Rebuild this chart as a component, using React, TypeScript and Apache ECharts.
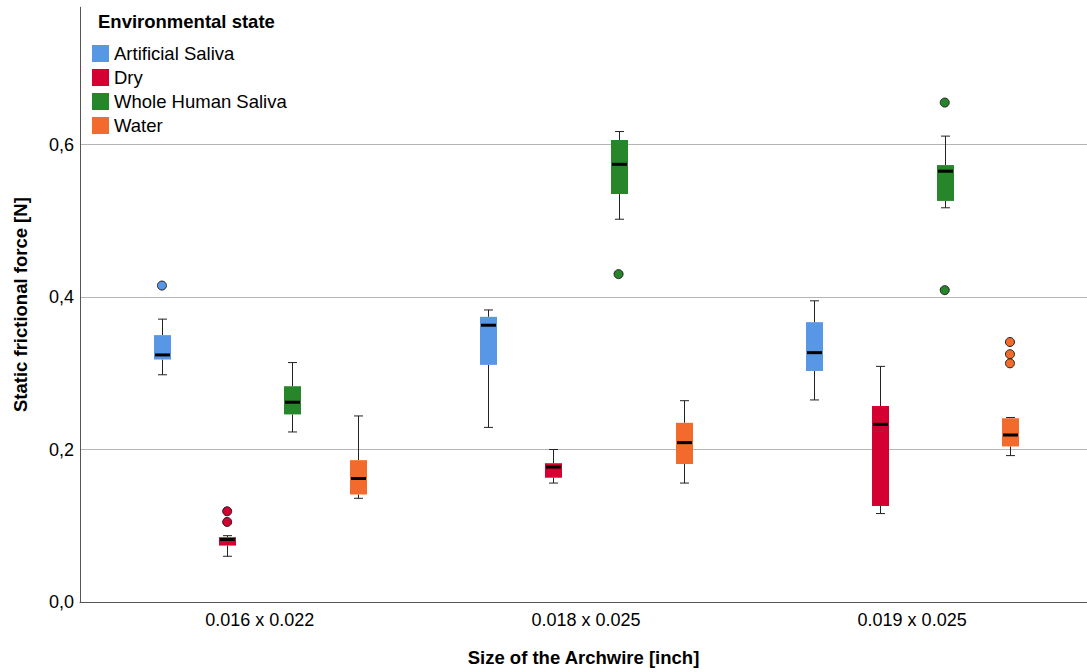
import React, { useEffect, useRef } from "react";
import * as echarts from "echarts";

const categories = ["0.016 x 0.022", "0.018 x 0.025", "0.019 x 0.025"];
const seriesNames = ["Artificial Saliva", "Dry", "Whole Human Saliva", "Water"];
const seriesColors = ["#5797e6", "#d50032", "#27862a", "#f26a2c"];

// [min, Q1, median, Q3, max] per category
const artificialSaliva = [
  [0.298, 0.318, 0.324, 0.35, 0.371],
  [0.229, 0.311, 0.363, 0.374, 0.383],
  [0.265, 0.303, 0.327, 0.367, 0.395],
];
const dry = [
  [0.06, 0.074, 0.082, 0.085, 0.087],
  [0.156, 0.163, 0.177, 0.182, 0.2],
  [0.116, 0.126, 0.233, 0.257, 0.309],
];
const wholeHumanSaliva = [
  [0.223, 0.246, 0.262, 0.283, 0.314],
  [0.502, 0.535, 0.574, 0.606, 0.617],
  [0.517, 0.526, 0.565, 0.573, 0.611],
];
const water = [
  [0.136, 0.141, 0.162, 0.186, 0.244],
  [0.156, 0.181, 0.209, 0.235, 0.264],
  [0.192, 0.204, 0.219, 0.241, 0.242],
];

// outliers: [categoryIndex, value]
const artificialSalivaOutliers = [[0, 0.415]];
const dryOutliers = [[0, 0.105], [0, 0.119]];
const wholeHumanSalivaOutliers = [[1, 0.43], [2, 0.655], [2, 0.409]];
const waterOutliers = [[2, 0.341], [2, 0.325], [2, 0.313]];

const yTicks = [0, 0.2, 0.4, 0.6];
const Y_MAX = 0.78;

const boxData = [artificialSaliva, dry, wholeHumanSaliva, water];
const outlierData = [artificialSalivaOutliers, dryOutliers, wholeHumanSalivaOutliers, waterOutliers];

const FONT = "'Liberation Sans', Arial, Helvetica, sans-serif";

export default function App() {
  const ref = useRef<HTMLDivElement>(null);

  useEffect(() => {
    if (!ref.current) return;
    const chart = echarts.init(ref.current, null, { renderer: "svg" });

    const GRID_TOP = 602 - Y_MAX * 762.5;
    const GRID_H = 602 - GRID_TOP;
    const S_LEFT = 96.7;
    const S_W = 978.5;
    const STEP = S_W / 3 / 5;

    const boxSeries = boxData.map((arr, si) => ({
      type: "custom",
      name: seriesNames[si],
      xAxisIndex: 1,
      yAxisIndex: 1,
      itemStyle: { color: seriesColors[si] },
      encode: { x: 0, y: [1, 2, 3, 4, 5] },
      data: arr.map((d, ci) => [ci, ...d]),
      renderItem: (params: any, api: any) => {
        const cat = api.value(0);
        const cx = api.coord([cat, 0])[0];
        const band = api.size([1, 0])[0];
        const x = Math.round(cx + (si - 1.5) * (band / 5)) + 0.5;
        const y = (v: number) => api.coord([cat, v])[1];
        const yMin = y(api.value(1));
        const yQ1 = y(api.value(2));
        const yMed = y(api.value(3));
        const yQ3 = y(api.value(4));
        const yMax = y(api.value(5));
        const bw = 17;
        const cap = 8;
        const ls = { stroke: "#222", lineWidth: 1 };
        return {
          type: "group",
          children: [
            { type: "line", shape: { x1: x, y1: yMax, x2: x, y2: yQ3 }, style: ls },
            { type: "line", shape: { x1: x, y1: yQ1, x2: x, y2: yMin }, style: ls },
            { type: "line", shape: { x1: x - cap / 2 - 0.5, y1: yMax, x2: x + cap / 2 + 0.5, y2: yMax }, style: ls },
            { type: "line", shape: { x1: x - cap / 2 - 0.5, y1: yMin, x2: x + cap / 2 + 0.5, y2: yMin }, style: ls },
            {
              type: "rect",
              shape: { x: x - bw / 2, y: yQ3, width: bw, height: yQ1 - yQ3 },
              style: { fill: seriesColors[si] },
            },
            {
              type: "line",
              shape: { x1: x - bw / 2 + 1, y1: yMed, x2: x + bw / 2 - 1, y2: yMed },
              style: { stroke: "#000", lineWidth: 3 },
            },
          ],
        };
      },
    }));

    const outlierSeries = outlierData.map((arr, si) => ({
      type: "scatter",
      name: seriesNames[si],
      xAxisIndex: 1,
      yAxisIndex: 1,
      symbol: "circle",
      symbolSize: 9,
      symbolOffset: [(si - 1.5) * STEP, 0],
      itemStyle: { color: seriesColors[si], borderColor: "#222", borderWidth: 1, opacity: 1 },
      data: arr,
      z: 5,
    }));

    chart.setOption({
      animation: false,
      backgroundColor: "#fff",
      textStyle: { fontFamily: FONT },
      title: {
        text: "Environmental state",
        left: 93,
        top: 7,
        textStyle: { fontFamily: FONT, fontSize: 18.5, fontWeight: "bold", color: "#000" },
      },
      legend: {
        orient: "vertical",
        left: 87,
        top: 39,
        icon: "rect",
        itemWidth: 17,
        itemHeight: 17,
        itemGap: 5,
        selectedMode: false,
        data: seriesNames,
        textStyle: { fontFamily: FONT, fontSize: 18.5, color: "#000", lineHeight: 18 },
      },
      grid: [
        { left: 80, width: 1007, top: GRID_TOP, height: GRID_H },
        { left: S_LEFT, width: S_W, top: GRID_TOP, height: GRID_H },
      ],
      xAxis: [
        {
          type: "value",
          gridIndex: 0,
          min: 0,
          max: 1,
          axisLine: { show: true, lineStyle: { color: "#555", width: 1 } },
          axisTick: { show: false },
          axisLabel: { show: false },
          splitLine: { show: false },
          name: "Size of the Archwire [inch]",
          nameLocation: "middle",
          nameGap: 46,
          nameTextStyle: { fontFamily: FONT, fontSize: 18.5, fontWeight: "bold", color: "#000" },
        },
        {
          type: "category",
          gridIndex: 1,
          data: categories,
          axisLine: { show: false },
          axisTick: { show: false },
          axisLabel: { fontFamily: FONT, fontSize: 18, color: "#000", margin: 9 },
          splitLine: { show: false },
        },
      ],
      yAxis: [
        {
          type: "value",
          gridIndex: 0,
          min: yTicks[0],
          max: Y_MAX,
          interval: 0.2,
          axisLine: { show: true, lineStyle: { color: "#555", width: 1 } },
          axisTick: { show: false },
          axisLabel: {
            fontFamily: FONT,
            fontSize: 18,
            color: "#000",
            margin: 6,
            showMaxLabel: false,
            formatter: (v: number) => (yTicks.some((t) => Math.abs(t - v) < 1e-9) ? v.toFixed(1).replace(".", ",") : ""),
          },
          splitLine: { show: true, showMaxLine: false, lineStyle: { color: "#b5b5b5", width: 1 } },
          name: "Static frictional force [N]",
          nameLocation: "middle",
          nameGap: 50,
          nameTextStyle: { fontFamily: FONT, fontSize: 18.5, fontWeight: "bold", color: "#000" },
        },
        {
          type: "value",
          gridIndex: 1,
          min: 0,
          max: Y_MAX,
          show: false,
        },
      ],
      series: [...boxSeries, ...outlierSeries],
    });

    return () => chart.dispose();
  }, []);

  return (
    <div
      ref={ref}
      style={{ position: "fixed", left: 0, top: 0, width: 1087, height: 672, background: "#fff" }}
    />
  );
}
